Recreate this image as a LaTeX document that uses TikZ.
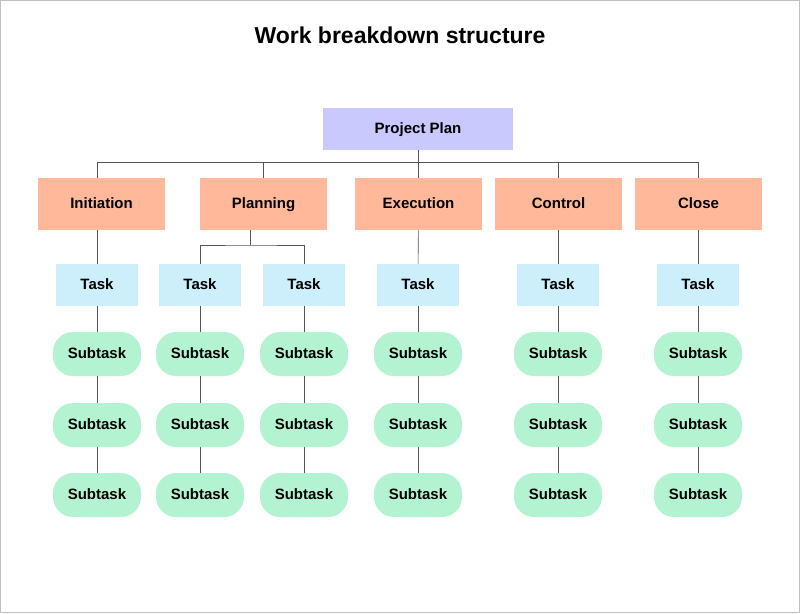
\documentclass[tikz,border=0pt]{standalone}
\usepackage{fontspec}
\setmainfont{Liberation Sans}
\definecolor{plan}{HTML}{C9C9FD}
\definecolor{phase}{HTML}{FFB89A}
\definecolor{task}{HTML}{CDEFFC}
\definecolor{sub}{HTML}{B3F3D1}
\definecolor{ln}{HTML}{555555}
\begin{document}
\begin{tikzpicture}[x=1pt,y=-1pt,
 lbl/.style={font=\bfseries\fontsize{15}{17}\selectfont,text=black,inner sep=0,text height=11pt,text depth=3pt},
 planbox/.style={lbl,fill=plan,minimum width=190,minimum height=42},
 phasebox/.style={lbl,fill=phase,minimum width=127,minimum height=52},
 taskbox/.style={lbl,fill=task,minimum width=82,minimum height=42},
 subbox/.style={lbl,fill=sub,rounded corners=20,minimum width=88,minimum height=44},
 conn/.style={draw=ln,line width=0.6pt}]
\useasboundingbox (0,0) rectangle (800,613);
\draw[draw=gray!50] (0.5,0.5) rectangle (799.5,612.5);
\node[font=\bfseries\fontsize{23}{26}\selectfont] (title) at (400,35) {Work breakdown structure};
\node[planbox] (pp) at (418,129) {Project Plan};
\node[phasebox] (p1) at (101.5,204) {Initiation};
\node[phasebox] (p2) at (263.5,204) {Planning};
\node[phasebox] (p3) at (418.5,204) {Execution};
\node[phasebox] (p4) at (558.5,204) {Control};
\node[phasebox] (p5) at (698.5,204) {Close};
\coordinate (h) at (418,162);
\draw[conn] (pp.south) -- (h);
\draw[conn] (97,162) -- (698,162);
\foreach \x/\n in {97/p1,263/p2,418/p3,558/p4,698/p5} \draw[conn] (\x,162) -- (\x,178);
\foreach \x [count=\i] in {97,200,304,418,558,698} {
 \node[taskbox] (t\i) at (\x,285) {Task};
 \node[subbox] (a\i) at (\x,354) {Subtask};
 \node[subbox] (b\i) at (\x,425) {Subtask};
 \node[subbox] (c\i) at (\x,495) {Subtask};
 \draw[conn] (t\i) -- (a\i); \draw[conn] (a\i) -- (b\i); \draw[conn] (b\i) -- (c\i);
}
\draw[conn] (t1) -- (97,230);
\draw[conn] (250,230) -- (250,245);
\draw[conn] (t2.north) |- (250,245) -| (t3.north);
\draw[conn] (p3) -- (t4); \draw[conn] (t5) -- (558,230); \draw[conn] (t6) -- (698,230);
\end{tikzpicture}
\end{document}
